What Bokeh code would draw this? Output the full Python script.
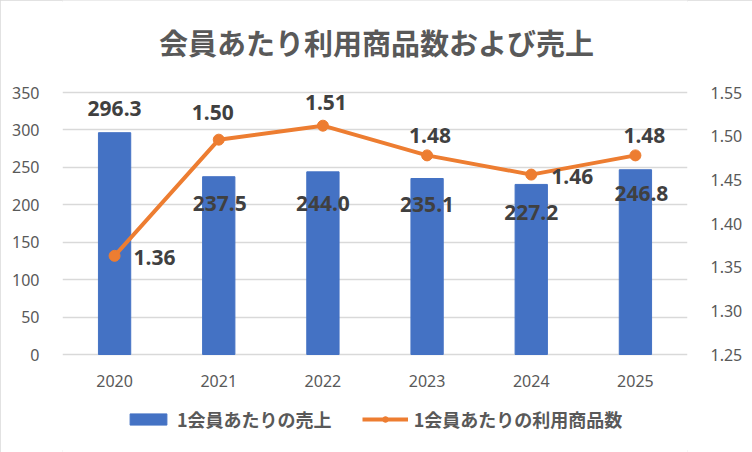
from bokeh.plotting import figure
from bokeh.models import (Range1d, LinearAxis, ColumnDataSource, Legend, LegendItem,
                          FixedTicker, NumeralTickFormatter, LabelSet, Label)
from bokeh.core.properties import value
from bokeh.embed import file_html
from bokeh.resources import INLINE

# ---- data ----
years = ["2020", "2021", "2022", "2023", "2024", "2025"]
sales = [296.3, 237.5, 244.0, 235.1, 227.2, 246.8]
items = [1.363, 1.496, 1.512, 1.478, 1.456, 1.478]
sales_labels = ["296.3", "237.5", "244.0", "235.1", "227.2", "246.8"]
items_labels = ["1.36", "1.50", "1.51", "1.48", "1.46", "1.48"]
left_ticks = [0, 50, 100, 150, 200, 250, 300, 350]
right_ticks = [1.25, 1.30, 1.35, 1.40, 1.45, 1.50, 1.55]
title_text = "会員あたり利用商品数および売上"
series_names = ["1会員あたりの売上", "1会員あたりの利用商品数"]

# ---- layout (pixels) ----
W, H = 752, 452
PLOT_TOP, PLOT_BOTTOM = 92, 354        # pixel rows of the value axes' ends
L_MIN, L_MAX = 0, 350
R_MIN, R_MAX = 1.25, 1.55
span = PLOT_BOTTOM - PLOT_TOP
l_per_px = (L_MAX - L_MIN) / span
r_per_px = (R_MAX - R_MIN) / span
left_range = Range1d(L_MIN - (H - PLOT_BOTTOM) * l_per_px, L_MAX + PLOT_TOP * l_per_px)
right_range = Range1d(R_MIN - (H - PLOT_BOTTOM) * r_per_px, R_MAX + PLOT_TOP * r_per_px)

# ---- label placement (screen px, +up) ----
sales_dx = [0, 1, 0, 0, 0, 6]
sales_dy = [24, -27, -32, -26, -28, -24]
items_dx = [40, -6, 3, 3, 41, 9]
items_dy = [-2, 27, 23, 20, -2, 20]

BLUE = "#4472C4"
ORANGE = "#ED7D31"
GRAY = "#595959"
DARK = "#404040"
JP = "Noto Sans CJK JP"

p = figure(x_range=years, y_range=left_range, width=W, height=H,
           output_backend="svg", toolbar_location=None, x_axis_location=None,
           min_border_left=62, min_border_right=65, min_border_top=0, min_border_bottom=0)
p.extra_y_ranges = {"r": right_range}
p.styles = {"outline": "2px solid #D9D9D9", "outline-offset": "-2px"}

src = ColumnDataSource(dict(x=years, sales=sales, items=items, sl=sales_labels, il=items_labels,
                            sdx=sales_dx, sdy=sales_dy, idx=items_dx, idy=items_dy,
                            zero=[0] * len(years)))

bars = p.vbar(x="x", top="sales", width=0.31, color=BLUE, source=src)
line = p.line(x="x", y="items", line_width=4, color=ORANGE, y_range_name="r", source=src)
pts = p.scatter(x="x", y="items", size=11, color=ORANGE, y_range_name="r", source=src)

p.add_layout(LabelSet(x="x", y="sales", text="sl", x_offset="sdx", y_offset="sdy", source=src,
                      text_align="center", text_baseline="middle", text_font=value("Noto Sans"),
                      text_font_size=value("21px"), text_font_style="bold", text_color=DARK))
p.add_layout(LabelSet(x="x", y="items", text="il", x_offset="idx", y_offset="idy", source=src,
                      y_range_name="r", text_align="center", text_baseline="middle",
                      text_font=value("Noto Sans"), text_font_size=value("21px"),
                      text_font_style="bold", text_color=DARK))
# category (year) labels under the baseline
p.add_layout(LabelSet(x="x", y="zero", text="x", y_offset=-26, source=src,
                      text_align="center", text_baseline="middle", text_font=value("Noto Sans"),
                      text_font_size=value("16px"), text_color=GRAY))

# title
p.add_layout(Label(x=314, y=H - 41, x_units="screen", y_units="screen", text=title_text,
                   text_align="center", text_baseline="middle", text_font=JP,
                   text_font_size="29px", text_font_style="bold", text_color=GRAY))

# value axes
p.yaxis[0].ticker = FixedTicker(ticks=left_ticks)
right = LinearAxis(y_range_name="r", ticker=FixedTicker(ticks=right_ticks),
                   formatter=NumeralTickFormatter(format="0.00"))
p.add_layout(right, "right")
for ax in [p.yaxis[0], right]:
    ax.axis_line_color = None
    ax.major_tick_line_color = None
    ax.minor_tick_line_color = None
    ax.major_label_text_font = "Noto Sans"
    ax.major_label_text_font_size = "16px"
    ax.major_label_text_color = GRAY
    ax.major_label_standoff = 17

p.xgrid.grid_line_color = None
p.ygrid.grid_line_color = "#D9D9D9"
p.ygrid.grid_line_width = 1.3
p.ygrid.ticker = FixedTicker(ticks=left_ticks)
p.outline_line_color = None

legend = Legend(items=[LegendItem(label=series_names[0], renderers=[bars]),
                       LegendItem(label=series_names[1], renderers=[line, pts])],
                orientation="horizontal", location=(63, 20),
                glyph_width=46, glyph_height=14, label_standoff=6, spacing=30,
                padding=0, margin=0, border_line_color=None, background_fill_alpha=0,
                label_text_font=JP, label_text_font_size="18px", label_text_color=GRAY,
                label_text_font_style="bold")
p.add_layout(legend, "center")

open("out.html", "w").write(file_html(p, INLINE))
